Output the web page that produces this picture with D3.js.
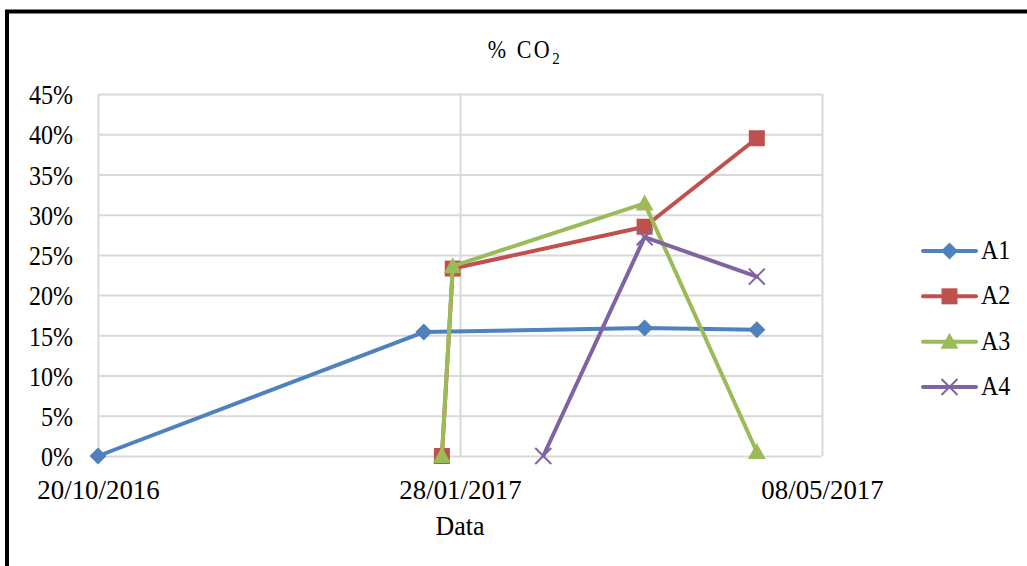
<!DOCTYPE html>
<html>
<head>
<meta charset="utf-8">
<script src="https://cdn.jsdelivr.net/npm/d3@7"></script>
<style>
  html, body { margin: 0; padding: 0; background: #fff; }
  svg { display: block; }
  text { font-family: "Liberation Serif", "Times New Roman", serif; fill: #000; }
</style>
</head>
<body>
<svg id="chart" width="1027" height="566"></svg>
<script>
// CO2 percentage readings per sampling point
const seriesNames = ["A1", "A2", "A3", "A4"];
const datesA1 = ["20/10/2016", "18/01/2017", "20/03/2017", "20/04/2017"];
const valuesA1 = [0, 15.4, 15.9, 15.7];
const datesA2 = ["23/01/2017", "26/01/2017", "20/03/2017", "20/04/2017"];
const valuesA2 = [0, 23.3, 28.5, 39.5];
const datesA3 = ["23/01/2017", "26/01/2017", "20/03/2017", "20/04/2017"];
const valuesA3 = [0, 23.6, 31.4, 0.5];
const datesA4 = ["20/02/2017", "20/03/2017", "20/04/2017"];
const valuesA4 = [0, 27.2, 22.3];
const xTickLabels = ["20/10/2016", "28/01/2017", "08/05/2017"];
const yTicks = [0, 5, 10, 15, 20, 25, 30, 35, 40, 45];

const parseDate = d3.timeParse("%d/%m/%Y");
const fmtDate = d3.timeFormat("%d/%m/%Y");

const colors = { A1: "#4F81BD", A2: "#C0504D", A3: "#9BBB59", A4: "#8064A2" };
const markers = { A1: "diamond", A2: "square", A3: "triangle", A4: "cross" };

const series = [
  { name: "A1", dates: datesA1, values: valuesA1 },
  { name: "A2", dates: datesA2, values: valuesA2 },
  { name: "A3", dates: datesA3, values: valuesA3 },
  { name: "A4", dates: datesA4, values: valuesA4 }
].map(s => ({ name: s.name, points: s.dates.map((d, i) => ({ date: parseDate(d), value: s.values[i] })) }));

const svg = d3.select("#chart");
const plot = { left: 98, right: 822, top: 94, bottom: 456 };

const x = d3.scaleTime()
  .domain([parseDate(xTickLabels[0]), parseDate(xTickLabels[xTickLabels.length - 1])])
  .range([plot.left, plot.right]);
const y = d3.scaleLinear().domain([0, 45]).range([plot.bottom, plot.top]);

// outer frame
svg.append("rect")
  .attr("x", 7).attr("y", 11.5)
  .attr("width", 1200).attr("height", 800)
  .attr("fill", "none").attr("stroke", "#000").attr("stroke-width", 4);

// title
const title = svg.append("text")
  .attr("transform", "translate(525,58) scale(1,1.1)")
  .attr("text-anchor", "middle")
  .style("font-size", "22px")
  .style("letter-spacing", "2.5px");
title.append("tspan").text("% CO");
title.append("tspan").attr("dy", 5).style("font-size", "15px").text("2");

// horizontal gridlines + y axis labels
const yAxis = d3.axisLeft(y)
  .tickValues(yTicks)
  .tickSize(-(plot.right - plot.left))
  .tickPadding(0)
  .tickFormat(d => d + "%");
const gy = svg.append("g").attr("transform", `translate(${plot.left},0)`).call(yAxis);
gy.select(".domain").remove();
gy.selectAll(".tick line").attr("stroke", "#D9D9D9").attr("stroke-width", 2);
gy.selectAll(".tick text")
  .attr("x", 0).attr("dy", "0.33em")
  .attr("transform", "translate(-25,1) scale(1,1.1)")
  .style("font-size", "24px");

// vertical gridlines + x axis labels
const xTicks = xTickLabels.map(parseDate);
const xAxis = d3.axisBottom(x)
  .tickValues(xTicks)
  .tickSize(-(plot.bottom - plot.top))
  .tickPadding(0)
  .tickFormat(fmtDate);
const gx = svg.append("g").attr("transform", `translate(0,${plot.bottom})`).call(xAxis);
gx.select(".domain").remove();
gx.selectAll(".tick line").attr("stroke", "#D9D9D9").attr("stroke-width", 2);
gx.selectAll(".tick text")
  .attr("y", 0).attr("dy", 0)
  .attr("transform", "translate(0,43) scale(1.12,1.1)")
  .style("font-size", "24px");

// x axis title
svg.append("text")
  .attr("transform", "translate(460,535) scale(1.08,1.1)")
  .attr("text-anchor", "middle")
  .style("font-size", "24px")
  .text("Data");

// marker shapes
function drawMarker(g, type, color) {
  if (type === "diamond") {
    g.append("path").attr("d", "M0,-8.5L8.5,0L0,8.5L-8.5,0Z").attr("fill", color);
  } else if (type === "square") {
    g.append("rect").attr("x", -8).attr("y", -8).attr("width", 16).attr("height", 16).attr("fill", color);
  } else if (type === "triangle") {
    g.append("path").attr("d", "M0,-9L9,7L-9,7Z").attr("fill", color);
  } else if (type === "cross") {
    g.append("path").attr("d", "M-8,-8L8,8M-8,8L8,-8")
      .attr("stroke", color).attr("stroke-width", 2).attr("fill", "none");
  }
}

const line = d3.line().x(d => x(d.date)).y(d => y(d.value));

series.forEach(s => {
  const g = svg.append("g");
  g.append("path")
    .datum(s.points)
    .attr("d", line)
    .attr("fill", "none")
    .attr("stroke", colors[s.name])
    .attr("stroke-width", 4)
    .attr("stroke-linejoin", "round")
    .attr("stroke-linecap", "round");
  s.points.forEach(p => {
    const m = g.append("g").attr("transform", `translate(${x(p.date)},${y(p.value)})`);
    drawMarker(m, markers[s.name], colors[s.name]);
  });
});

// legend
const legend = svg.append("g");
const legendY = d3.scalePoint().domain(seriesNames).range([251, 387]);
seriesNames.forEach(name => {
  const ly = legendY(name);
  const g = legend.append("g").attr("transform", `translate(0,${ly})`);
  g.append("line")
    .attr("x1", 923).attr("x2", 976).attr("y1", 0).attr("y2", 0)
    .attr("stroke", colors[name]).attr("stroke-width", 4).attr("stroke-linecap", "round");
  const m = g.append("g").attr("transform", "translate(949.5,0)");
  drawMarker(m, markers[name], colors[name]);
  g.append("text")
    .attr("transform", "translate(981,8) scale(1,1.1)")
    .style("font-size", "24px")
    .text(name);
});
</script>
</body>
</html>
